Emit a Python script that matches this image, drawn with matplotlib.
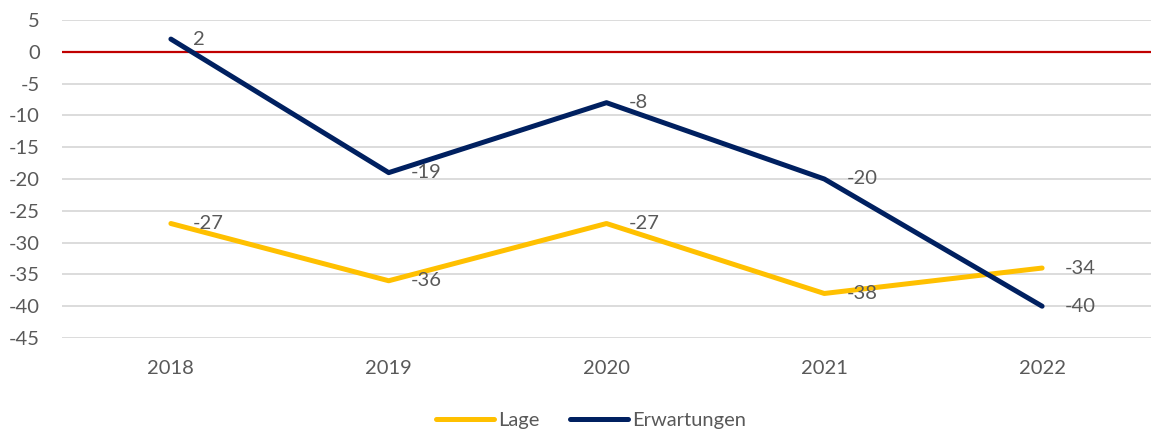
import matplotlib.pyplot as plt

plt.rcParams['font.family'] = ['Lato', 'DejaVu Sans']
plt.rcParams['axes.unicode_minus'] = False

# data
years = ['2018', '2019', '2020', '2021', '2022']
lage = [-27, -36, -27, -38, -34]
erwartungen = [2, -19, -8, -20, -40]

text_color = '#595959'

fig = plt.figure(figsize=(11.51, 4.30), dpi=100)
ax = fig.add_axes([62 / 1151, 92 / 430, 1 - 62 / 1151, 318 / 430])

x = range(len(years))
ax.plot(x, lage, color='#ffc000', linewidth=3.6, solid_capstyle='round', label='Lage', zorder=3)
ax.plot(x, erwartungen, color='#002060', linewidth=3.6, solid_capstyle='round', label='Erwartungen', zorder=4)

# data labels to the right of each point
for series in (lage, erwartungen):
    for i, v in enumerate(series):
        ax.annotate(str(v), (i, v), xytext=(16, 0), textcoords='offset points',
                    ha='left', va='center', fontsize=14.5, color=text_color, zorder=5)

ax.axhline(0, color='#c00000', linewidth=1.6, zorder=2)

ax.set_xlim(-0.5, 4.5)
ax.set_ylim(-45, 5)
ax.set_yticks(range(-45, 6, 5))
ax.set_xticks(list(x))
ax.set_xticklabels(years)
ax.yaxis.grid(True, color='#d9d9d9', linewidth=1.3)
ax.set_axisbelow(True)
ax.tick_params(axis='both', length=0, labelsize=14.5, labelcolor=text_color)
ax.tick_params(axis='y', pad=16)
ax.tick_params(axis='x', pad=16)
for s in ax.spines.values():
    s.set_visible(False)

fig.legend(loc='center', bbox_to_anchor=(591 / 1151, 1 - 420 / 430), ncol=2, frameon=False,
           fontsize=14.5, labelcolor=text_color, handlelength=2.9, handletextpad=0.2,
           columnspacing=1.5)

fig.savefig('out.png', dpi=100)
